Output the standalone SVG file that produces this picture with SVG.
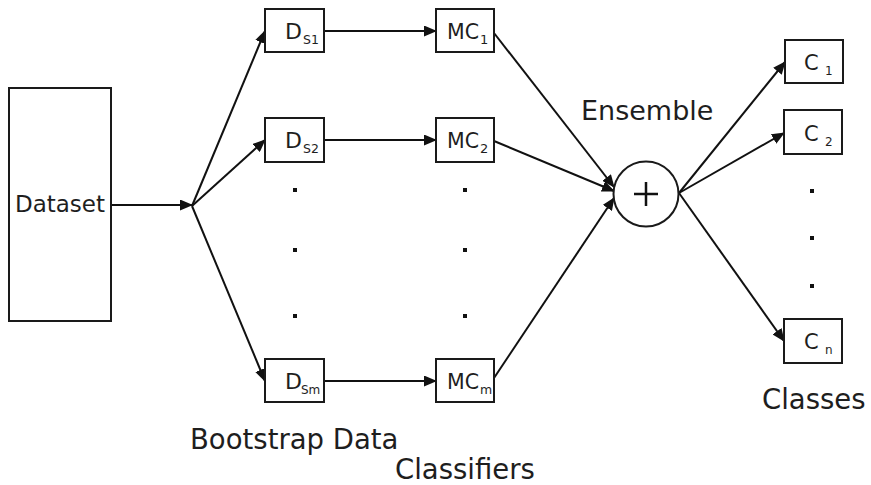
<svg xmlns="http://www.w3.org/2000/svg" width="871" height="485" viewBox="0 0 871 485">
  <style>
    .box { fill: #fff; stroke: #1a1a1a; stroke-width: 2; }
    .edge { fill: none; stroke: #111; stroke-width: 2; marker-end: url(#arrow); }
    .lbl { font-family: "DejaVu Sans", "Liberation Sans", sans-serif; fill: #1e1e1e; }
    .dot { fill: #111; }
  </style>
  <defs>
    <marker id="arrow" markerUnits="userSpaceOnUse" markerWidth="13" markerHeight="11" refX="12" refY="5.5" orient="auto">
      <path d="M0,0 L13,5.5 L0,11 z" fill="#111"/>
    </marker>
  </defs>
  <rect width="871" height="485" fill="#fff"/>

  <!-- connectors -->
  <g id="connectors">
    <line class="edge" x1="111" y1="205" x2="192" y2="205"/>
    <line class="edge" x1="192" y1="206" x2="265" y2="31"/>
    <line class="edge" x1="192" y1="206" x2="265" y2="140"/>
    <line class="edge" x1="192" y1="206" x2="265" y2="381"/>
    <line class="edge" x1="324" y1="31" x2="436" y2="31"/>
    <line class="edge" x1="324" y1="140" x2="436" y2="140"/>
    <line class="edge" x1="324" y1="381" x2="436" y2="381"/>
    <line class="edge" x1="494" y1="33" x2="614" y2="187"/>
    <line class="edge" x1="494" y1="141" x2="614" y2="191"/>
    <line class="edge" x1="494" y1="378" x2="614" y2="198"/>
    <line class="edge" x1="679" y1="193" x2="785" y2="62"/>
    <line class="edge" x1="679" y1="193" x2="784" y2="133"/>
    <line class="edge" x1="679" y1="193" x2="784" y2="341"/>
  </g>

  <g id="dataset">
    <rect class="box" x="9" y="88" width="102" height="233"/>
    <text class="lbl" x="60" y="212" font-size="23" text-anchor="middle">Dataset</text>
  </g>

  <g id="ds1">
    <rect class="box" x="265" y="9" width="59" height="43"/>
    <text class="lbl" x="285" y="39" font-size="22">D</text>
    <text class="lbl" x="303" y="44" font-size="12.5">S1</text>
  </g>
  <g id="ds2">
    <rect class="box" x="265" y="118" width="59" height="44"/>
    <text class="lbl" x="285" y="148" font-size="22">D</text>
    <text class="lbl" x="303" y="153" font-size="12.5">S2</text>
  </g>
  <g id="dsm">
    <rect class="box" x="265" y="359" width="59" height="43"/>
    <text class="lbl" x="285" y="389" font-size="22">D</text>
    <text class="lbl" x="301" y="394" font-size="12">Sm</text>
  </g>

  <g id="mc1">
    <rect class="box" x="436" y="9" width="58" height="43"/>
    <text class="lbl" x="447" y="39" font-size="20.5">MC</text>
    <text class="lbl" x="480" y="44" font-size="13">1</text>
  </g>
  <g id="mc2">
    <rect class="box" x="436" y="118" width="58" height="44"/>
    <text class="lbl" x="447" y="148" font-size="20.5">MC</text>
    <text class="lbl" x="480" y="153" font-size="13">2</text>
  </g>
  <g id="mcm">
    <rect class="box" x="436" y="359" width="58" height="43"/>
    <text class="lbl" x="447" y="389" font-size="20.5">MC</text>
    <text class="lbl" x="480" y="394" font-size="12.5">m</text>
  </g>

  <!-- ellipsis dots -->
  <g id="dots">
    <rect class="dot" x="293" y="188" width="4" height="4"/>
    <rect class="dot" x="293" y="248" width="4" height="4"/>
    <rect class="dot" x="293" y="314" width="4" height="4"/>
    <rect class="dot" x="463" y="188" width="4" height="4"/>
    <rect class="dot" x="463" y="248" width="4" height="4"/>
    <rect class="dot" x="463" y="314" width="4" height="4"/>
    <rect class="dot" x="810" y="189" width="4" height="4"/>
    <rect class="dot" x="810" y="236" width="4" height="4"/>
    <rect class="dot" x="810" y="284" width="4" height="4"/>
  </g>

  <g id="ensemble">
    <circle cx="646" cy="194" r="32.5" fill="#fff" stroke="#1a1a1a" stroke-width="2"/>
    <path d="M634,194 H658 M646,182 V206" stroke="#111" stroke-width="2.5" fill="none"/>
    <text class="lbl" x="581" y="120" font-size="27">Ensemble</text>
  </g>

  <g id="c1">
    <rect class="box" x="785" y="40" width="58" height="43"/>
    <text class="lbl" x="804" y="70" font-size="21">C</text>
    <text class="lbl" x="825" y="75" font-size="12">1</text>
  </g>
  <g id="c2">
    <rect class="box" x="784" y="110" width="58" height="44"/>
    <text class="lbl" x="804" y="141" font-size="21">C</text>
    <text class="lbl" x="825" y="146" font-size="12">2</text>
  </g>
  <g id="cn">
    <rect class="box" x="784" y="319" width="58" height="44"/>
    <text class="lbl" x="804" y="349" font-size="21">C</text>
    <text class="lbl" x="825" y="354" font-size="12">n</text>
  </g>

  <g id="captions">
    <text class="lbl" x="190" y="449" font-size="27.5">Bootstrap Data</text>
    <text class="lbl" x="395" y="479" font-size="27.5">Classifiers</text>
    <text class="lbl" x="762" y="409" font-size="27.5">Classes</text>
  </g>
</svg>
